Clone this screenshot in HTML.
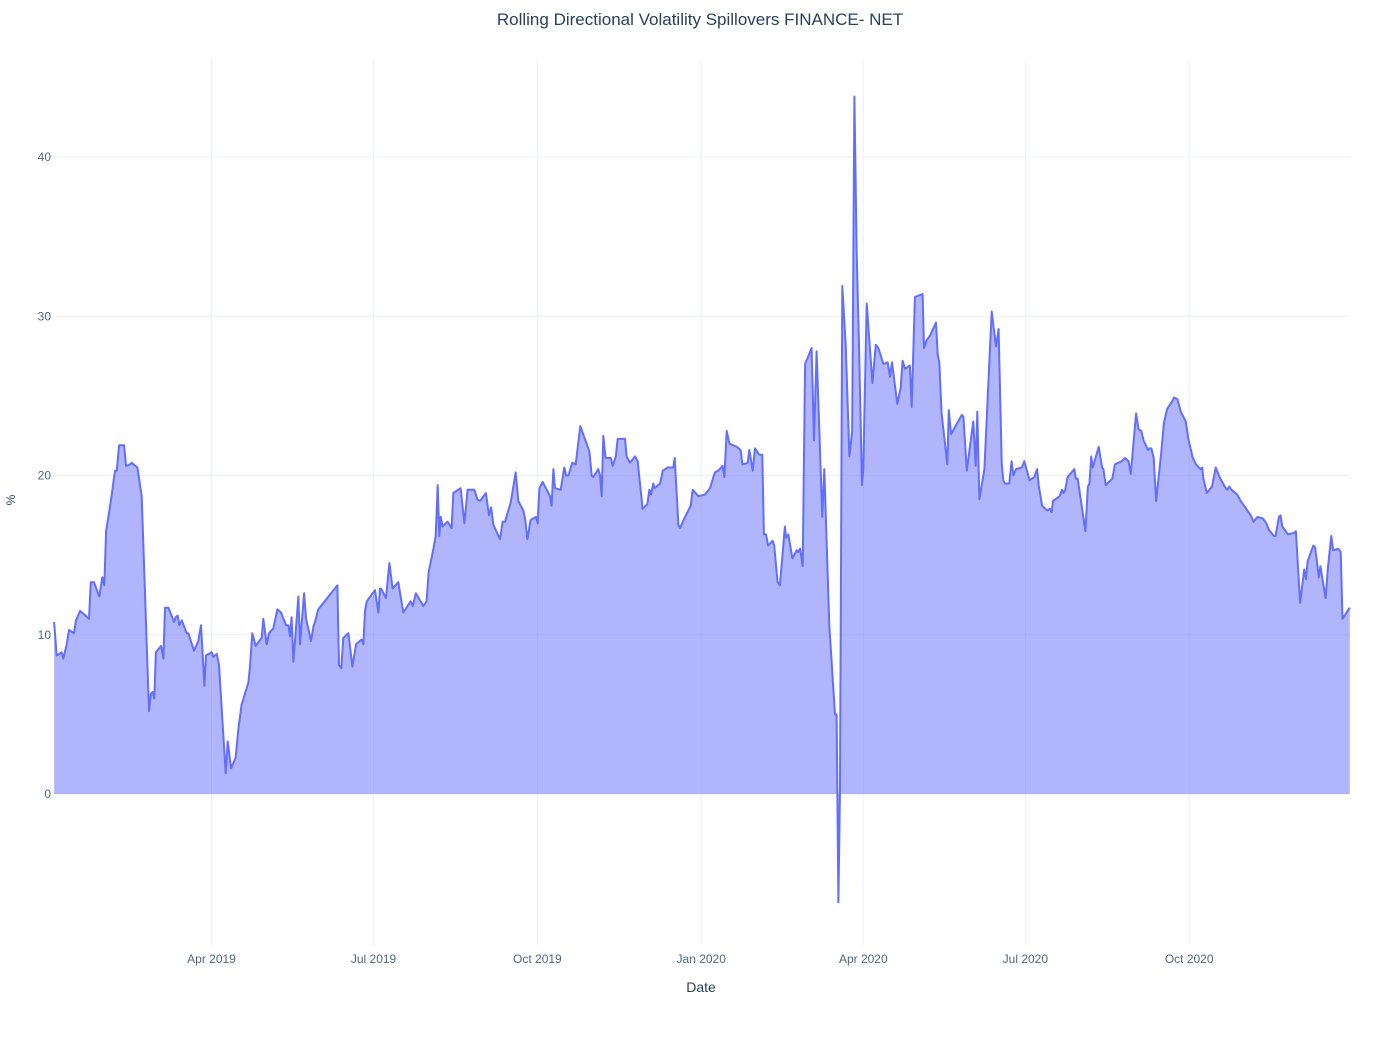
<!DOCTYPE html>
<html><head><meta charset="utf-8">
<style>
html,body{margin:0;padding:0;background:#fff;}
body{width:1400px;height:1050px;overflow:hidden;font-family:"Liberation Sans",sans-serif;}
text{font-family:"Liberation Sans",sans-serif;}
</style></head>
<body>
<svg id="chart" width="1400" height="1050" xmlns="http://www.w3.org/2000/svg">
<rect width="1400" height="1050" fill="#fff"/>
<text x="700" y="25" text-anchor="middle" font-size="17" fill="#2a3f5f">Rolling Directional Volatility Spillovers FINANCE- NET</text>
<g id="grid"></g>
<g id="series"></g>
<g id="axes"></g>
<text x="701" y="992" text-anchor="middle" font-size="14" fill="#2a3f5f">Date</text>
<text x="15" y="500" text-anchor="middle" font-size="12" fill="#2a3f5f" transform="rotate(-90 15 500)">%</text>
</svg>
<script>
// days since 2019-01-02
const days = [0.6,2.1,4.9,5.8,7.7,9.0,11.8,12.9,15.2,19.3,20.2,21.2,23.0,26.0,27.7,28.8,29.8,32.6,34.8,35.8,37.1,39.9,41.0,43.2,44.2,47.4,49.8,53.9,55.0,56.0,56.9,57.8,60.7,62.0,62.9,64.8,68.0,68.9,70.0,70.9,72.3,75.1,76.0,79.2,81.6,83.1,85.0,85.9,89.1,90.0,91.9,93.2,97.0,98.1,100.0,102.6,104.1,105.9,109.7,110.6,111.9,113.8,117.2,118.1,120.0,121.3,123.7,126.0,128.0,130.9,132.2,133.1,134.0,135.0,137.8,138.7,141.0,142.1,144.9,146.2,147.1,149.0,159.7,160.6,161.9,163.0,165.9,168.1,170.2,173.3,174.3,175.2,176.2,180.8,182.7,183.6,
184.2,187.0,188.9,190.7,193.9,196.7,200.8,202.0,203.8,208.0,209.8,210.9,213.6,214.9,216.0,216.9,217.7,218.8,221.6,223.9,224.8,228.9,231.0,232.8,236.6,238.3,239.8,243.1,244.8,246.0,247.3,251.0,252.5,253.8,257.0,259.8,261.3,264.1,265.2,266.4,268.2,271.2,272.2,273.1,275.0,279.1,280.0,281.0,281.9,285.1,287.1,288.1,289.4,291.6,293.5,296.1,299.3,301.2,302.5,303.4,306.2,307.2,308.1,309.0,310.3,313.2,314.3,316.0,317.1,319.9,321.2,322.1,324.0,326.8,328.3,331.1,333.7,334.9,335.8,337.1,337.7,340.9,342.4,345.2,348.3,349.1,351.2,352.1,354.9,358.1,359.2,362.4,
366.1,368.9,371.7,373.6,376.0,377.0,378.3,379.8,383.9,386.1,387.1,390.1,391.0,392.9,394.2,396.6,398.3,399.2,400.4,401.5,404.1,405.0,406.9,408.2,411.0,411.6,412.9,415.2,417.6,418.5,419.5,421.0,422.3,426.0,427.3,428.8,432.0,433.1,435.9,439.1,440.0,441.0,441.9,443.2,445.1,447.2,448.8,450.0,451.3,452.6,454.3,455.0,456.9,460.1,462.0,463.5,466.3,468.7,470.0,471.1,474.1,476.0,477.1,478.4,481.2,482.2,484.0,488.3,489.1,490.6,492.5,495.8,496.8,497.7,499.0,502.2,503.0,504.3,510.3,511.2,513.1,516.8,518.1,519.0,520.2,523.0,527.1,529.5,531.0,532.7,533.6,534.6,537.0,538.3,539.3,
540.8,544.0,545.4,548.4,551.1,552.6,553.5,555.4,558.3,559.8,560.8,561.5,565.3,566.5,567.4,568.4,569.7,573.5,574.4,575.4,579.7,581.1,582.0,583.0,583.9,587.2,589.1,589.8,591.1,594.8,596.3,600.1,602.0,603.9,605.2,608.2,609.6,611.1,612.4,614.9,615.6,616.8,618.1,619.4,622.3,623.8,625.7,628.2,629.5,631.4,633.3,636.1,637.5,640.0,641.8,644.3,645.3,646.0,647.9,650.8,652.9,655.1,658.0,659.3,660.5,661.8,665.0,666.9,672.6,674.1,676.4,679.4,681.3,682.7,685.5,686.5,688.4,689.3,690.3,693.5,696.9,697.9,700.3,702.6,703.6,704.5,707.7,708.7,710.8,711.7,714.6,715.9,717.8,718.8,721.6,723.1,724.1,728.2];
const values = [10.8,8.7,8.9,8.5,9.4,10.3,10.1,10.9,11.5,11.1,11.0,13.3,13.3,12.4,13.6,13.1,16.5,18.5,20.3,20.3,21.9,21.9,20.6,20.7,20.8,20.5,18.7,5.2,6.3,6.4,6.0,8.9,9.3,8.5,11.7,11.7,10.8,11.1,11.2,10.6,10.9,10.1,10.1,9.0,9.6,10.6,6.8,8.7,8.9,8.6,8.8,8.1,1.3,3.3,1.6,2.3,4.1,5.6,7.0,8.0,10.1,9.3,9.8,11.0,9.4,10.1,10.4,11.6,11.4,10.6,10.6,9.9,11.1,8.3,12.4,9.4,12.6,11.0,9.6,10.5,10.8,11.6,13.1,8.1,7.9,9.8,10.1,8.0,9.4,9.7,9.4,11.5,12.1,12.8,11.4,12.9,
12.9,12.3,14.5,12.9,13.3,11.4,12.1,11.8,12.6,11.8,12.1,13.9,15.4,16.2,19.4,16.2,17.4,16.8,17.1,16.7,18.9,19.2,17.0,19.1,19.1,18.5,18.4,18.9,17.5,18.0,16.9,16.0,17.1,17.1,18.3,20.2,18.4,17.8,17.2,16.0,17.2,17.4,17.0,19.2,19.6,18.7,18.1,20.4,19.2,19.1,20.5,20.0,20.0,20.8,20.7,23.1,22.1,21.5,20.0,19.9,20.4,20.0,18.7,22.5,21.1,21.1,20.6,21.2,22.3,22.3,22.3,21.2,20.8,21.2,20.9,17.9,18.2,19.1,18.8,19.5,19.2,19.5,20.3,20.5,20.5,21.1,16.9,16.7,17.4,18.1,19.1,18.7,
18.8,19.2,20.2,20.3,20.6,19.9,22.8,22.0,21.8,21.6,20.7,20.8,21.6,20.3,21.7,21.3,21.3,16.3,16.3,15.6,15.9,15.6,13.3,13.1,16.8,16.1,16.3,14.8,15.3,15.2,15.4,14.3,27.0,28.0,22.2,27.8,17.4,20.4,10.6,5.0,5.0,-6.8,0.3,31.9,28.2,21.2,22.8,43.8,33.9,28.2,19.4,20.4,30.8,25.8,28.2,28.0,27.0,27.1,26.2,27.1,24.5,25.5,27.2,26.7,26.9,24.3,31.2,31.4,28.0,28.5,28.8,29.6,27.6,27.1,23.9,20.7,24.1,22.6,23.8,23.7,20.3,23.4,20.6,24.0,18.5,20.4,30.3,28.1,29.2,20.8,19.7,19.5,19.5,20.9,20.0,
20.4,20.5,20.9,19.7,19.9,20.4,19.4,18.1,17.8,17.9,17.7,18.4,18.7,19.1,18.9,19.1,19.9,20.4,19.8,19.8,16.5,19.3,19.5,21.2,20.5,21.8,20.5,20.4,19.4,19.8,20.7,20.9,21.1,20.9,20.1,23.9,22.9,22.8,22.2,21.6,21.7,21.7,21.1,18.4,21.4,23.3,24.2,24.6,24.9,24.8,24.0,23.4,22.3,21.1,20.7,20.4,20.5,19.8,18.9,19.3,20.5,19.9,19.3,19.1,19.3,19.1,18.8,18.4,17.5,17.1,17.4,17.3,17.0,16.6,16.2,16.2,17.4,17.5,16.8,16.3,16.4,16.5,12.0,14.1,13.5,14.6,15.6,15.5,13.6,14.3,12.3,14.2,16.2,15.3,15.4,15.2,11.0,11.7];
const yTicks = [0,10,20,30,40];
const xTickDays = [89,180,272,364,455,546,638];
const xTickLabels = ["Apr 2019","Jul 2019","Oct 2019","Jan 2020","Apr 2020","Jul 2020","Oct 2020"];

const NS="http://www.w3.org/2000/svg";
const X0=53, X1=1350, D0=0, D1=728.3;
const xs = d => X0 + (d-D0)/(D1-D0)*(X1-X0);
const ys = v => 794 - v*15.925;
function mk(tag, parent){const e=document.createElementNS(NS,tag);document.getElementById(parent).appendChild(e);return e;}

yTicks.forEach(t=>{
  const l=mk('line','grid');
  
  
  l.setAttribute('x1',X0);l.setAttribute('x2',X1);l.setAttribute('y1',ys(t));l.setAttribute('y2',ys(t));
  l.setAttribute('stroke',t===0?'#ebf0f8':'#ebf0f8');l.setAttribute('stroke-width','1');
  const tx=mk('text','axes');
  
  
  tx.setAttribute('x',X0-2);tx.setAttribute('y',ys(t)+4);tx.setAttribute('text-anchor','end');
  tx.setAttribute('font-size','12');tx.setAttribute('fill','#506784');tx.textContent=t;
});
xTickDays.forEach((d,i)=>{
  const l=mk('line','grid');
  
  
  l.setAttribute('x1',xs(d));l.setAttribute('x2',xs(d));l.setAttribute('y1',60);l.setAttribute('y2',945);
  l.setAttribute('stroke','#ebf0f8');l.setAttribute('stroke-width','1');
  const tx=mk('text','axes');
  
  
  tx.setAttribute('x',xs(d));tx.setAttribute('y',963);tx.setAttribute('text-anchor','middle');
  tx.setAttribute('font-size','12');tx.setAttribute('fill','#506784');tx.textContent=xTickLabels[i];
});
const pts = days.map((d,i)=>xs(d).toFixed(1)+','+ys(values[i]).toFixed(1));
const area=mk('polygon','series');


area.setAttribute('points', xs(days[0]).toFixed(1)+','+ys(0)+' '+pts.join(' ')+' '+xs(days[days.length-1]).toFixed(1)+','+ys(0));
area.setAttribute('fill','rgba(99,110,250,0.5)');
const line=mk('polyline','series');


line.setAttribute('points', pts.join(' '));
line.setAttribute('fill','none');line.setAttribute('stroke','#636efa');line.setAttribute('stroke-width','2');line.setAttribute('stroke-linejoin','round');
</script>
</body></html>
